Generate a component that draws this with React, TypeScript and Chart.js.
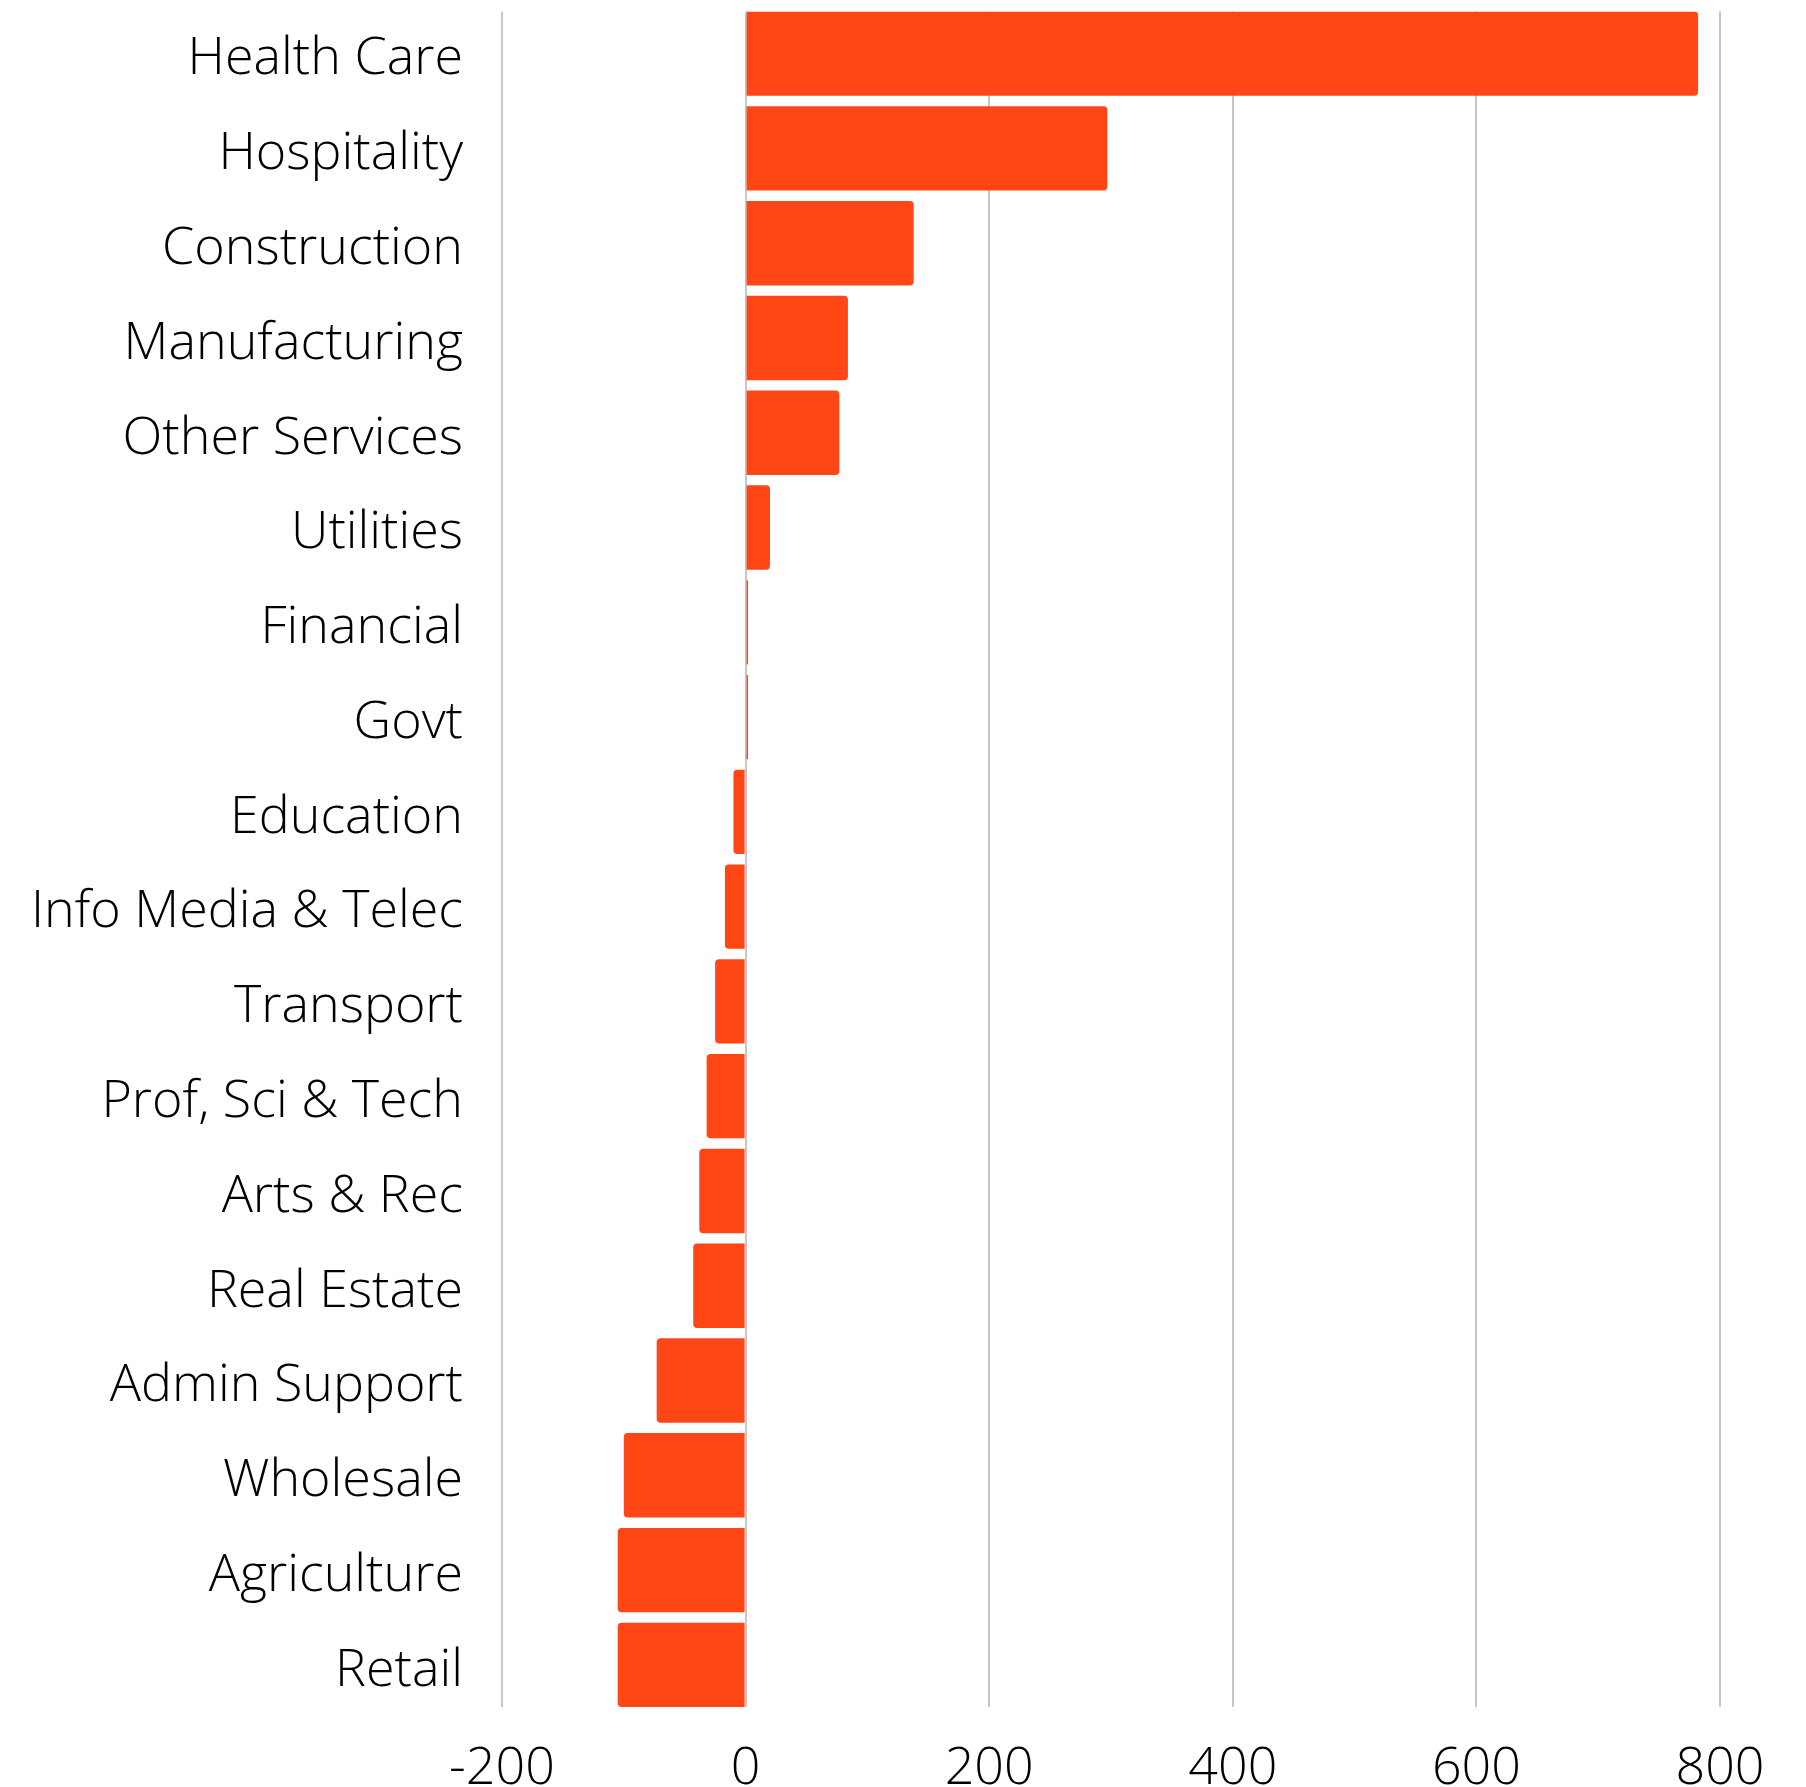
import React, { useEffect, useRef } from "react";
import { Chart, registerables } from "chart.js";

Chart.register(...registerables);

const categories: string[] = [
  "Health Care",
  "Hospitality",
  "Construction",
  "Manufacturing",
  "Other Services",
  "Utilities",
  "Financial",
  "Govt",
  "Education",
  "Info Media & Telec",
  "Transport",
  "Prof, Sci & Tech",
  "Arts & Rec",
  "Real Estate",
  "Admin Support",
  "Wholesale",
  "Agriculture",
  "Retail",
];

const values: number[] = [782, 297, 138, 84, 77, 20, 2, 2, -10, -17, -25, -32, -38, -43, -73, -100, -105, -105];

const xTickValues: number[] = [-200, 0, 200, 400, 600, 800];

const BAR_COLOR = "#FF4614";
const FONT = { family: "'Open Sans', 'Noto Sans', sans-serif", size: 52, weight: "300" as any };

export default function App() {
  const canvasRef = useRef<HTMLCanvasElement | null>(null);

  useEffect(() => {
    if (!canvasRef.current) return;
    const half = 0.445;
    const chart = new Chart(canvasRef.current, {
      type: "bar",
      data: {
        datasets: [
          {
            data: values.map((v, i) => ({ x: v, y: i })),
            backgroundColor: BAR_COLOR,
            borderWidth: 0,
            borderRadius: 4,
            categoryPercentage: 0.89,
            barPercentage: 1,
          },
        ],
      },
      options: {
        indexAxis: "y",
        animation: false,
        responsive: false,
        layout: { padding: { left: 0, top: 11.5, right: 86, bottom: 0 } },
        plugins: { legend: { display: false }, tooltip: { enabled: false } },
        scales: {
          x: {
            type: "linear",
            bounds: "data",
            min: xTickValues[0],
            max: xTickValues[xTickValues.length - 1],
            afterBuildTicks: (scale: any) => {
              scale.ticks = xTickValues.map((v) => ({ value: v }));
            },
            afterFit: (scale: any) => {
              scale.height = 80;
            },
            grid: { display: true, color: "#c6c6c6", lineWidth: 2, drawTicks: false },
            border: { display: false },
            ticks: { color: "#000", font: FONT, padding: 31, maxRotation: 0, autoSkip: false },
          },
          y: {
            type: "linear",
            bounds: "data",
            offset: false,
            reverse: true,
            min: -half,
            max: categories.length - 1 + half,
            afterBuildTicks: (scale: any) => {
              scale.ticks = categories.map((_, i) => ({ value: i }));
            },
            afterDataLimits: (scale: any) => {
              scale.min = -half;
              scale.max = categories.length - 1 + half;
            },
            afterFit: (scale: any) => {
              scale.width = 502;
              scale.paddingTop = 0;
              scale.paddingBottom = 0;
            },
            grid: { display: false, drawTicks: false, offset: false },
            border: { display: false },
            ticks: {
              color: "#000",
              font: FONT,
              padding: 39,
              labelOffset: 6,
              autoSkip: false,
              callback: (v: any) => categories[Math.round(Number(v))] ?? "",
            },
          },
        },
      },
    });
    return () => chart.destroy();
  }, []);

  return (
    <div style={{ position: "absolute", left: 0, top: 0, width: 1806, height: 1787, background: "#fff" }}>
      <canvas ref={canvasRef} width={1806} height={1787} style={{ display: "block" }} />
    </div>
  );
}
